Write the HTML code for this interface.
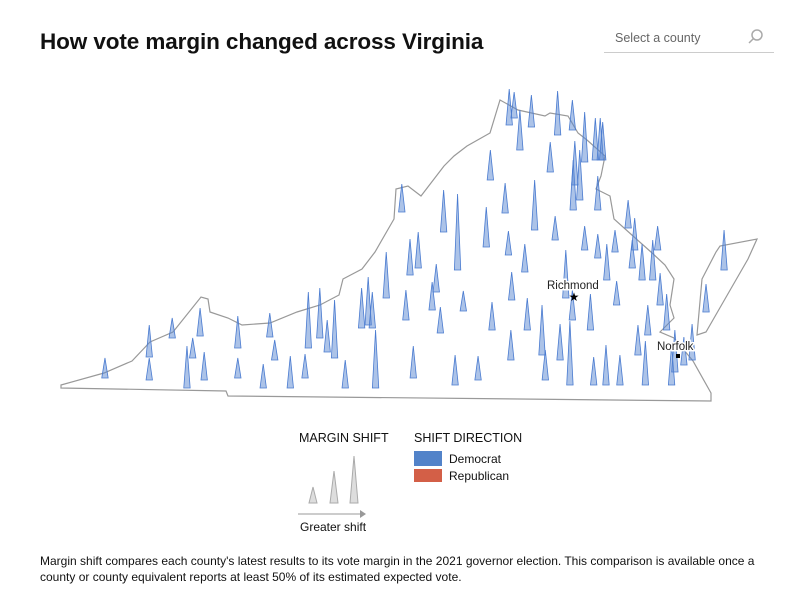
<!DOCTYPE html>
<html><head><meta charset="utf-8"><style>
body{margin:0;width:810px;height:598px;background:#fff;font-family:"Liberation Sans",sans-serif;color:#111;position:relative;overflow:hidden}
.abs{position:absolute}
</style></head><body>
<div class="abs" style="left:40px;top:29px;font-size:22.5px;font-weight:bold;letter-spacing:-0.1px">How vote margin changed across Virginia</div>
<div class="abs" style="left:604px;top:26px;width:170px;height:26px;border-bottom:1px solid #ccc">
 <span style="position:absolute;left:11px;top:5px;font-size:12.5px;color:#666">Select a county</span>
 <svg style="position:absolute;left:143px;top:2px" width="18" height="18"><circle cx="10" cy="7" r="5" fill="none" stroke="#aaa" stroke-width="1.5"/><line x1="6.5" y1="10.5" x2="2" y2="15" stroke="#aaa" stroke-width="1.5"/></svg>
</div>
<svg id="map" class="abs" style="left:0;top:0" width="810" height="420"></svg>
<div class="abs" style="left:299px;top:431px;font-size:12.5px">MARGIN SHIFT</div>
<div class="abs" style="left:414px;top:431px;font-size:12.5px">SHIFT DIRECTION</div>
<div class="abs" style="left:414px;top:451px;width:28px;height:15px;background:#5283c9"></div>
<div class="abs" style="left:414px;top:469px;width:28px;height:13px;background:#d35f47"></div>
<div class="abs" style="left:449px;top:452px;font-size:12px">Democrat</div>
<div class="abs" style="left:449px;top:469px;font-size:12px">Republican</div>
<svg class="abs" style="left:290px;top:450px" width="90" height="70">
 <polygon points="19,53 23,37 27,53" fill="#ddd" stroke="#aaa"/>
 <polygon points="40,53 44,21 48,53" fill="#ddd" stroke="#aaa"/>
 <polygon points="60,53 64,6 68,53" fill="#ddd" stroke="#aaa"/>
 <line x1="8" y1="64" x2="70" y2="64" stroke="#999"/><polygon points="70,60 76,64 70,68" fill="#999"/>
</svg>
<div class="abs" style="left:300px;top:520px;font-size:12px">Greater shift</div>
<div class="abs" style="left:40px;top:553px;width:740px;font-size:12px;line-height:16px">Margin shift compares each county's latest results to its vote margin in the 2021 governor election. This comparison is available once a county or county equivalent reports at least 50% of its estimated expected vote.</div>
<script>
const lons=[-83.02,-82.48,-82.48,-82.20,-81.95,-82.02,-81.86,-81.81,-81.40,-81.40,-81.09,-81.01,-80.95,-80.76,-80.58,-80.54,-80.40,-80.31,-80.22,-80.09,-79.89,-79.81,-79.76,-79.72,-79.59,-79.35,-79.26,-79.40,-79.30,-79.20,-79.03,-78.98,-78.93,-78.89,-78.75,-78.65,-78.72,-78.47,-78.37,-78.32,-78.30,-78.14,-78.10,-78.07,-78.06,-77.96,-77.90,-77.87,-77.78,-77.65,-77.69,-77.59,-77.53,-77.47,-77.50,-77.35,-77.32,-77.40,-77.31,-77.32,-77.23,-77.17,-77.17,-77.10,-77.06,-77.01,-77.01,-76.98,-76.91,-76.90,-76.80,-76.78,-76.74,-76.64,-76.59,-76.56,-76.52,-76.47,-76.43,-76.40,-76.34,-76.28,-76.25,-76.17,-76.11,-76.07,-75.96,-75.86,-75.69,-75.47,-78.09,-78.03,-77.82,-77.04,-76.95,-77.29];
const lats=[36.72,36.93,36.70,37.12,36.92,36.62,37.14,36.70,37.02,36.72,36.62,37.13,36.90,36.62,36.72,37.02,37.12,36.98,36.92,36.62,37.22,37.25,37.22,36.62,37.52,37.30,36.72,38.38,37.75,37.82,37.40,37.58,37.17,38.18,36.65,37.39,37.80,36.70,38.03,38.70,37.20,38.37,37.95,36.90,37.50,39.00,37.78,37.20,38.20,36.70,36.95,38.78,38.10,36.90,39.15,36.65,37.30,37.52,38.40,39.20,38.50,38.00,38.88,37.20,36.65,37.92,38.40,38.90,36.65,37.70,37.98,37.45,36.65,38.22,37.82,38.00,36.95,37.70,36.65,37.15,37.70,38.00,37.45,37.20,36.65,36.78,36.85,36.90,37.38,37.80,39.25,39.32,39.23,38.90,38.90,38.65];
const shifts=[10,16,11,10,10,21,14,14,16,10,12,12,10,16,12,28,25,16,29,14,20,24,18,29,23,15,16,14,18,18,14,14,13,21,15,10,38,12,20,15,14,15,12,15,14,20,14,16,25,15,25,15,12,18,22,32,15,24,25,15,25,12,25,18,14,12,17,21,20,18,11,12,15,14,14,16,15,18,22,15,20,12,16,18,20,21,14,18,14,20,18,13,16,21,19,22];
const NS="http://www.w3.org/2000/svg";
const svg=document.getElementById('map');
const px=lon=>(lon+84.3)*82;
const py=lat=>(40.5-lat)*100;
const hs=v=>v*2;
function mk(t,a){const e=document.createElementNS(NS,t);for(const k in a)e.setAttribute(k,a[k]);svg.appendChild(e);return e;}
const st=mk('polygon',{points:"61,385 104,373 132,361 150,342 173,332 201,297 208,299 210,312 228,318 242,325 270,323 297,312 320,305 339,295 343,279 362,269 375,252 394,219 396,189 408,186 421,196 444,166 454,156 467,146 490,133 500,100 518,110 545,116 550,113 568,116 578,133 587,140 605,156 601,176 596,189 610,196 614,219 633,236 651,252 665,265 674,279 670,305 674,318 660,332 674,338 693,361 711,393 711,401 228,396 226,391 61,388",fill:"#fff",stroke:"#999","stroke-width":1.2});


const es=mk('polygon',{points:"697,335 702,279 716,252 720,246 757,239 748,259 729,292 706,332",fill:"#fff",stroke:"#999","stroke-width":1.2});


for(let i=0;i<lons.length;i++){
 const x=px(lons[i]),y=py(lats[i]),h=hs(shifts[i]);
 const p=mk('polygon',{points:`${x-3.2},${y} ${x},${y-h} ${x+3.2},${y}`,fill:"rgba(90,135,210,0.5)",stroke:"#4a7bd0","stroke-width":0.8});
 
 
}
const s=mk('text',{x:574,y:301,"text-anchor":"middle","font-size":12});s.textContent='★';


const r=mk('text',{x:547,y:289,"font-size":11.5,fill:"#222",stroke:"#fff","stroke-width":3,"paint-order":"stroke"});r.textContent='Richmond';


const n=mk('rect',{x:676,y:354,width:4,height:4,fill:"#000"});


const nl=mk('text',{x:657,y:350,"font-size":11.5,fill:"#222",stroke:"#fff","stroke-width":3,"paint-order":"stroke"});nl.textContent='Norfolk';


</script>
</body></html>
